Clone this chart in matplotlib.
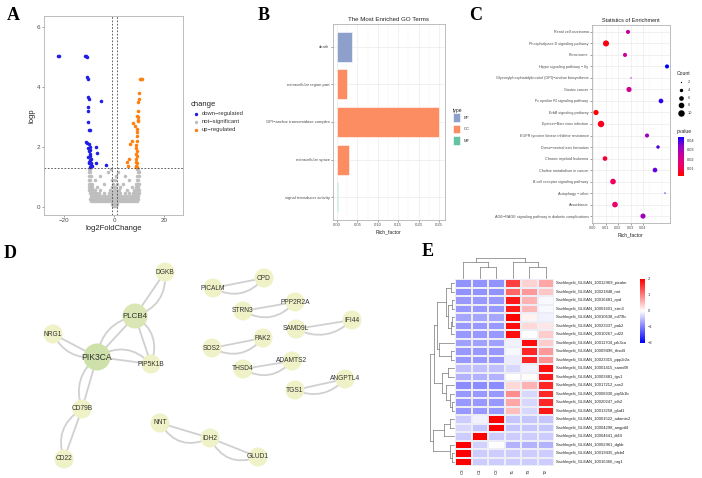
import numpy as np
import matplotlib
matplotlib.use("Agg")
import matplotlib.pyplot as plt
from matplotlib.colors import LinearSegmentedColormap, Normalize
from matplotlib.patches import Circle, FancyArrowPatch, Rectangle

W, H = 702, 478
plt.rcParams['font.family'] = ['Liberation Sans', 'DejaVu Sans']

# ---------------- A: volcano ----------------
down_pts = [(-22.3, 5.03), (-21.9, 5.02), (-11.6, 5.05), (-11.2, 5.03), (-11.0, 5.0),
            (-10.7, 4.32), (-10.6, 4.26), (-10.3, 3.66), (-10.2, 3.6), (-10.5, 3.33),
            (-10.4, 3.2), (-5.3, 3.55), (-10.3, 2.84), (-10.2, 2.57), (-9.8, 2.55),
            (-11.1, 2.18), (-10.8, 2.12), (-10.0, 2.1), (-9.6, 2.0), (-10.3, 1.95),
            (-9.8, 1.9), (-7.2, 2.0), (-6.7, 1.8), (-9.9, 1.85), (-9.5, 1.75),
            (-10.6, 1.65), (-9.3, 1.6), (-9.7, 1.55), (-9.2, 1.45), (-10.1, 1.45),
            (-7.2, 1.45), (-9.4, 1.4), (-9.0, 1.35), (-3.2, 1.4), (-9.8, 1.32),
            (-9.6, 1.7), (-10.0, 1.5)]
up_pts = [(10.4, 4.27), (11.2, 4.27), (10.8, 4.27), (10.1, 3.8), (9.9, 3.6), (9.7, 3.5),
          (9.6, 3.2), (9.5, 3.0), (9.4, 2.85), (7.7, 2.8), (8.5, 2.7), (9.3, 2.6),
          (9.2, 2.5), (9.0, 2.35), (7.3, 2.2), (6.5, 2.1), (9.1, 2.2), (8.9, 2.05),
          (8.8, 1.95), (9.0, 1.85), (8.7, 1.75), (9.2, 1.7), (8.8, 1.6), (6.1, 1.6),
          (5.1, 1.5), (8.6, 1.5), (9.0, 1.45), (8.8, 1.38), (8.6, 1.33), (9.3, 1.32),
          (5.6, 1.38), (9.5, 2.9), (9.0, 3.05)]
gray_levels = [0.03, 0.1, 0.2, 0.28, 0.36, 0.45, 0.55, 0.65, 0.78, 0.9, 1.02, 1.15, 1.25]
gray_rows = [
    [-0.6, 0.1, 0.7],
    [-1.0, -0.3, 0.4, 1.1],
    [-9.2, -8.4, -7.6, -6.8, -6.0, -5.2, -4.4, -3.6, -2.8, -2.0, -1.2, -0.4, 0.4, 1.2,
     2.0, 2.8, 3.6, 4.4, 5.2, 6.0, 6.8, 7.6, 8.4, 9.2],
    [-9.6, -8.8, -8.0, -7.2, -6.4, -5.6, -4.8, -4.0, -3.2, -2.4, -1.6, -0.8, 0.0, 0.8,
     1.6, 2.4, 3.2, 4.0, 4.8, 5.6, 6.4, 7.2, 8.0, 8.8, 9.6],
    [-9.4, -8.6, -7.8, -7.0, -6.2, -5.0, -3.8, -2.6, -1.4, -0.6, 0.6, 1.4, 2.6, 3.8,
     5.0, 6.2, 7.0, 7.8, 8.6, 9.4],
    [-9.8, -9.0, -8.2, -7.4, -6.0, -4.2, -2.0, -0.9, 0.3, 1.1, 2.2, 4.5, 6.0, 7.4, 8.2,
     9.0, 9.8],
    [-9.9, -9.3, -8.6, -7.6, -5.5, -1.5, -0.2, 0.8, 1.8, 5.2, 7.8, 8.7, 9.3, 9.9],
    [-10.0, -9.4, -8.8, -6.8, -0.7, 0.5, 2.5, 7.0, 8.9, 9.5],
    [-10.1, -9.5, -8.9, -4.0, -0.4, 1.0, 3.5, 8.8, 9.4, 10.0],
    [-10.2, -9.6, -7.5, -1.0, 0.2, 6.0, 9.0, 9.6],
    [-10.0, -9.4, -5.5, 0.6, 4.5, 9.2, 9.8],
    [-10.2, -9.7, -2.5, 1.5, 9.4, 10.0],
    [-10.0, -9.6, -1.2, 9.1, 9.7],
]

# ---------------- B: GO bars ----------------
go_terms = ["death", "extracellular region part", "GPI\u2212anchor transamidase complex",
            "extracellular space", "signal transducer activity"]
go_rich = [0.037, 0.0254, 0.25, 0.030, 0.0025]
go_type = ["BP", "CC", "CC", "CC", "MF"]
type_colors = {"BP": "#8DA0CB", "CC": "#FC8D62", "MF": "#66C2A5"}

# ---------------- C: KEGG dots ----------------
kegg_terms = ["Renal cell carcinoma", "Phospholipase D signaling pathway", "Peroxisome",
              "Hippo signaling pathway \u2212 fly",
              "Glycosylphosphatidylinositol (GPI)\u2212anchor biosynthesis", "Gastric cancer",
              "Fc epsilon RI signaling pathway", "ErbB signaling pathway",
              "Epstein\u2212Barr virus infection", "EGFR tyrosine kinase inhibitor resistance",
              "Dorso\u2212ventral axis formation", "Chronic myeloid leukemia",
              "Choline metabolism in cancer", "B cell receptor signaling pathway",
              "Autophagy \u2212 other", "Amoebiasis",
              "AGE\u2212RAGE signaling pathway in diabetic complications"]
kegg_rich = [0.028, 0.0104, 0.0256, 0.0592, 0.0304, 0.0288, 0.0544, 0.0024, 0.0064,
             0.0432, 0.052, 0.0096, 0.0496, 0.016, 0.0576, 0.0176, 0.040]
kegg_count = [5, 9, 5, 5, 2, 7, 6, 7, 10, 5, 4, 6, 6, 8, 2, 8, 7]
kegg_p = [0.024, 0.004, 0.023, 0.0444, 0.028, 0.022, 0.041, 0.0022, 0.005, 0.032, 0.039,
          0.008, 0.037, 0.012, 0.043, 0.013, 0.031]

# ---------------- D: network ----------------
layout = {"DGKB": (165, 272), "PLCB4": (135, 316), "NRG1": (53, 334), "PIK3CA": (97, 357),
          "PIP5K1B": (151, 364), "CD79B": (82, 409), "CD22": (64, 459),
          "PICALM": (213, 288), "CPD": (264, 278), "STRN3": (243, 311),
          "PPP2R2A": (295, 302), "SAMD9L": (296, 329), "IFI44": (352, 320),
          "SOS2": (212, 348), "PAK2": (263, 338), "THSD4": (243, 369),
          "ADAMTS2": (292, 361), "TGS1": (295, 390), "ANGPTL4": (345, 379),
          "NNT": (160, 423), "IDH2": (210, 438), "GLUD1": (258, 457)}
edges = [("NRG1", "PIK3CA", 0.35), ("PIK3CA", "PLCB4", -0.35), ("PLCB4", "PIP5K1B", -0.4),
         ("PIK3CA", "PIP5K1B", -0.4), ("PLCB4", "DGKB", 0.4), ("PIK3CA", "CD79B", 0.35),
         ("CD79B", "CD22", 0.4), ("PICALM", "CPD", 0.4), ("STRN3", "PPP2R2A", 0.4),
         ("SAMD9L", "IFI44", 0.35), ("SOS2", "PAK2", 0.4), ("THSD4", "ADAMTS2", 0.4),
         ("TGS1", "ANGPTL4", 0.35), ("NNT", "IDH2", 0.45), ("IDH2", "GLUD1", 0.45)]
hubs = {"PIK3CA": (13.5, "#CFE1AA", 6.2), "PLCB4": (12.5, "#DAE7B4", 5.8)}

# ---------------- E: heatmap ----------------
heat_genes = ["picalm", "nnt", "cpd", "strn3", "cd79b", "pak2", "cd22", "pik3ca", "thsd4",
              "ppp2r2a", "samd9l", "tgs1", "sos2", "pip5k1b", "idh2", "glud1", "adamts2",
              "angptl4", "ifi44", "dgkb", "plcb4", "nrg1"]
heat_ids = ["10012969", "10021848", "10016481", "10001601", "10010638", "10023337",
            "10010267", "10011704", "10009496", "10023315", "10001415", "10003481",
            "10017212", "10008330", "10020247", "10013258", "10001522", "10004298",
            "10004641", "10002961", "10019435", "10016366"]
heat_cols = ["C3", "C1", "C2", "T1", "T3", "T2"]
heat_vals = [
    [-0.85, -0.85, -0.85, 1.5, 0.35, 0.7],
    [-0.85, -0.85, -0.85, 1.2, 0.8, 0.45],
    [-0.8, -0.8, -0.8, 1.8, 0.6, -0.05],
    [-0.8, -0.8, -0.8, 1.8, 0.55, -0.05],
    [-0.7, -0.7, -0.7, 2.0, 0.1, -0.1],
    [-0.8, -0.8, -0.8, 1.9, 0.3, 0.2],
    [-0.8, -0.8, -0.8, 1.9, 0.0, 0.4],
    [-0.75, -0.75, -0.75, -0.1, 1.9, 0.4],
    [-0.8, -0.8, -0.8, -0.05, 1.7, 0.8],
    [-0.8, -0.8, -0.8, -0.15, 1.7, 0.85],
    [-0.5, -0.5, -0.5, -0.3, -0.1, 1.9],
    [-0.6, -0.6, -0.6, 0.0, 0.02, 1.8],
    [-0.9, -0.9, -0.9, 0.3, 0.6, 1.7],
    [-0.8, -0.8, -0.8, 0.9, -0.3, 1.7],
    [-0.8, -0.8, -0.8, 0.7, -0.3, 1.7],
    [-0.8, -0.8, -0.8, 0.5, -0.3, 1.8],
    [-0.4, -0.1, 2.0, -0.45, -0.45, -0.45],
    [-0.3, -0.45, 2.0, -0.45, -0.45, -0.45],
    [-0.4, 2.0, -0.4, -0.4, -0.4, -0.4],
    [2.0, -0.35, 0.0, -0.6, -0.6, -0.6],
    [2.0, -0.4, -0.4, -0.4, -0.4, -0.4],
    [2.0, -0.4, -0.4, -0.4, -0.4, -0.4],
]
# dendrograms: (height, left, right), leaves are row/column indices
row_tree = (24, (20, (17, (8, (3, 0, 1), (6, (2, 2, 3), (3, (2, 4, 5), 6))),
                      (15, 7, (3, 8, 9))),
                 (12, (6, 10, 11), (8, 12, (4, 13, (2, 14, 15))))),
            (21, (10, (4, 16, 17), 18), (4, 19, (2, 20, 21))))
col_tree = (20, (16, 0, (11, 1, 2)), (16, 3, (11, 4, 5)))

# =====================================================
fig = plt.figure(figsize=(W / 100, H / 100), dpi=100)
ov = fig.add_axes([0, 0, 1, 1])
ov.set_xlim(0, W)
ov.set_ylim(H, 0)
ov.axis('off')


def px_axes(l, t, r, b):
    return fig.add_axes([l / W, 1 - b / H, (r - l) / W, (b - t) / H])


def gg_style(ax, size):
    for s in ax.spines.values():
        s.set_color('#B3B3B3')
        s.set_linewidth(0.6)
    ax.tick_params(length=1.5, width=0.4, color='#555555', labelsize=size,
                   labelcolor='#4D4D4D', pad=1)


# panel letters
for lab, (x, y) in zip("ABCDE", [(13, 15), (264, 15), (476, 15), (10, 253), (428, 252)]):
    ov.text(x, y, lab, fontsize=13, fontweight='bold', family='Liberation Serif',
            ha='center', va='center')

# ---- A ----
axA = px_axes(44, 16, 183, 215)
gx = np.concatenate(gray_rows)
gy = np.concatenate([[lv] * len(r) for lv, r in zip(gray_levels, gray_rows)])
axA.scatter(gx, gy, s=6.5, color='#BEBEBE', lw=0, zorder=1)
d = np.array(down_pts)
u = np.array(up_pts)
axA.scatter(d[:, 0], d[:, 1], s=6.5, color='#1E1EE6', lw=0, zorder=2)
axA.scatter(u[:, 0], u[:, 1], s=6.5, color='#FF7F0E', lw=0, zorder=2)
for v in (-1, 1):
    axA.axvline(v, color='#444444', lw=0.6, ls=(0, (2, 2)))
axA.axhline(-np.log10(0.05), color='#444444', lw=0.6, ls=(0, (2, 2)))
axA.set_xlim(-28, 27.5)
axA.set_ylim(-0.27, 6.37)
axA.set_xticks([-20, 0, 20])
axA.set_yticks([0, 2, 4, 6])
gg_style(axA, 4.5)
axA.set_xlabel('log2FoldChange', fontsize=5.5, labelpad=1, color='#222222')
axA.set_ylabel('logp', fontsize=5.5, labelpad=1, color='#222222')
ov.text(191, 104, 'change', fontsize=5.5, va='center', color='#222222')
for i, (lab, col) in enumerate([('down\u2212regulated', '#1E1EE6'),
                                ('not\u2212significant', '#BEBEBE'),
                                ('up\u2212regulated', '#FF7F0E')]):
    yy = 113.5 + 8 * i
    ov.scatter([196], [yy], s=6, color=col, lw=0)
    ov.text(202, yy, lab, fontsize=4.2, va='center', color='#333333')

# ---- B ----
axB = px_axes(333, 24, 445, 220)
yb = np.arange(len(go_terms))
axB.barh(yb, go_rich, height=0.8, color=[type_colors[t] for t in go_type],
         edgecolor='white', lw=0.4, zorder=2)
axB.set_ylim(len(go_terms) - 0.4, -0.6)
axB.set_xlim(-0.0098, 0.2647)
axB.set_xticks([0, 0.05, 0.10, 0.15, 0.20, 0.25])
axB.set_xticks([0.025, 0.075, 0.125, 0.175, 0.225], minor=True)
axB.set_xticklabels(['0.00', '0.05', '0.10', '0.15', '0.20', '0.25'])
axB.set_yticks(yb)
axB.set_yticklabels(go_terms)
axB.grid(True, which='major', color='#EBEBEB', lw=0.5, zorder=0)
axB.grid(True, which='minor', axis='x', color='#F4F4F4', lw=0.3, zorder=0)
axB.tick_params(which='minor', length=0)
axB.set_axisbelow(True)
gg_style(axB, 3.0)
axB.set_xlabel('Rich_factor', fontsize=3.6, labelpad=1, color='#222222')
axB.set_title('The Most Enriched GO Terms', fontsize=4.4, pad=2, color='#222222')
ov.text(453, 110, 'type', fontsize=3.6, va='center', color='#222222')
for i, t in enumerate(["BP", "CC", "MF"]):
    yy = 113 + 11.5 * i
    ov.add_patch(Rectangle((453, yy), 7, 8.5, facecolor=type_colors[t], edgecolor='white',
                           lw=0.4))
    ov.text(464, yy + 4.5, t, fontsize=3, va='center', color='#333333')

# ---- C ----
pcmap = LinearSegmentedColormap.from_list('pv', ['#FF0000', '#EE0066', '#CC0099',
                                                 '#9400CC', '#0000FF'])
pnorm = Normalize(0.0022, 0.0444)


def dot_size(c):
    return 0.9 + (c - 2) * 2.6


axC = px_axes(592, 25, 670, 223)
yc = np.arange(len(kegg_terms))
axC.scatter(kegg_rich, yc, s=[dot_size(c) for c in kegg_count],
            c=kegg_p, cmap=pcmap, norm=pnorm, lw=0, zorder=3)
axC.set_ylim(len(kegg_terms) - 0.4, -0.6)
axC.set_xlim(-0.0008, 0.0616)
axC.set_xticks([0, 0.01, 0.02, 0.03, 0.04])
axC.set_xticks([0.005, 0.015, 0.025, 0.035, 0.045, 0.055], minor=True)
axC.set_xticklabels(['0.00', '0.01', '0.02', '0.03', '0.04'])
axC.set_yticks(yc)
axC.set_yticklabels(kegg_terms)
axC.grid(True, which='major', color='#EBEBEB', lw=0.5, zorder=0)
axC.grid(True, which='minor', axis='x', color='#F4F4F4', lw=0.3, zorder=0)
axC.tick_params(which='minor', length=0)
axC.set_axisbelow(True)
gg_style(axC, 2.7)
axC.set_xlabel('Rich_factor', fontsize=3.6, labelpad=1, color='#222222')
axC.set_title('Statistics of Enrichment', fontsize=4.0, pad=2, color='#222222')
ov.text(677, 73, 'Count', fontsize=3.6, va='center', color='#222222')
for i, c in enumerate([2, 4, 6, 8, 10]):
    yy = 82 + 7.8 * i
    ov.scatter([680.5], [yy], s=dot_size(c), color='black', lw=0)
    ov.text(688, yy, str(c), fontsize=2.8, va='center', color='#333333')
ov.text(677, 131, 'pvalue', fontsize=3.6, va='center', color='#222222')
axCb = px_axes(678, 137, 684, 176)
axCb.imshow(np.linspace(1, 0, 100)[:, None], aspect='auto', cmap=pcmap,
            extent=[0, 1, 0.0022, 0.0444], origin='upper')
axCb.set_ylim(0.0022, 0.0444)
axCb.axis('off')
for v in [0.01, 0.02, 0.03, 0.04]:
    yy = 176 - (v - 0.0022) / (0.0444 - 0.0022) * 39
    ov.text(687, yy, '%.2f' % v, fontsize=2.8, va='center', color='#333333')

# ---- D ----
for a, b, rad in edges:
    (x1, y1), (x2, y2) = layout[a], layout[b]
    ov.plot([x1, x2], [y1, y2], color='#D0D0D0', lw=1.3, zorder=1,
            solid_capstyle='round')
    ov.add_patch(FancyArrowPatch((x1, y1), (x2, y2), arrowstyle='-',
                                 connectionstyle='arc3,rad=%s' % rad, shrinkA=0,
                                 shrinkB=0, color='#D0D0D0', lw=1.3, zorder=1))
for name, (x, y) in layout.items():
    r, col, fs = hubs.get(name, (9.5, '#EFF2C6', 4.8))
    ov.add_patch(Circle((x, y), r, facecolor=col, edgecolor='none', zorder=2))
    ov.text(x, y, name, fontsize=fs, ha='center', va='center', color='#333333',
            zorder=3)

# ---- E ----
hm_cmap = LinearSegmentedColormap.from_list('hm', ['#0000FF', '#FFFFFF', '#FF0000'])
axE = px_axes(455, 279, 554, 466)
vals = np.array(heat_vals)
axE.pcolormesh(vals, cmap=hm_cmap, vmin=-2, vmax=2, edgecolors='#EDEDF5', linewidth=0.3)
axE.set_xlim(0, len(heat_cols))
axE.set_ylim(len(heat_genes), 0)
axE.axis('off')
for i, (g, gid) in enumerate(zip(heat_genes, heat_ids)):
    axE.text(len(heat_cols) + 0.12, i + 0.5, 'S.schlegelii_GLEAN_%s_%s' % (gid, g),
             fontsize=3.0, va='center', color='#222222')
for j, c in enumerate(heat_cols):
    axE.text(j + 0.5, len(heat_genes) + 0.3, c, fontsize=3.2, rotation=90,
             ha='center', va='top', color='#222222')

row_h = (466 - 279) / len(heat_genes)
col_w = (554 - 455) / len(heat_cols)


def draw_tree(node, pos_leaf, to_px, vertical):
    # returns (center position, height)
    if isinstance(node, int):
        return pos_leaf(node), 0
    h, left, right = node
    cl, hl = draw_tree(left, pos_leaf, to_px, vertical)
    cr, hr = draw_tree(right, pos_leaf, to_px, vertical)
    segs = [((cl, hl), (cl, h)), ((cr, hr), (cr, h)), ((cl, h), (cr, h))]
    for (p1, q1), (p2, q2) in segs:
        if vertical:
            ov.plot([p1, p2], [to_px(q1), to_px(q2)], color='#777777', lw=0.5)
        else:
            ov.plot([to_px(q1), to_px(q2)], [p1, p2], color='#777777', lw=0.5)
    return (cl + cr) / 2, h


draw_tree(row_tree, lambda i: 279 + row_h * (i + 0.5), lambda h: 453.5 - h, False)
draw_tree(col_tree, lambda j: 455 + col_w * (j + 0.5), lambda h: 277.5 - h, True)

axEb = px_axes(640, 279, 645, 343)
axEb.imshow(np.linspace(2, -2, 100)[:, None], aspect='auto', cmap=hm_cmap,
            vmin=-2, vmax=2, extent=[0, 1, -2, 2])
axEb.axis('off')
for v in [2, 1, 0, -1, -2]:
    yy = 279 + (2 - v) / 4 * 64
    ov.text(648, yy, str(v).replace('-', '\u2212'), fontsize=3, va='center',
            color='#333333')

fig.savefig('out.png', dpi=100)
